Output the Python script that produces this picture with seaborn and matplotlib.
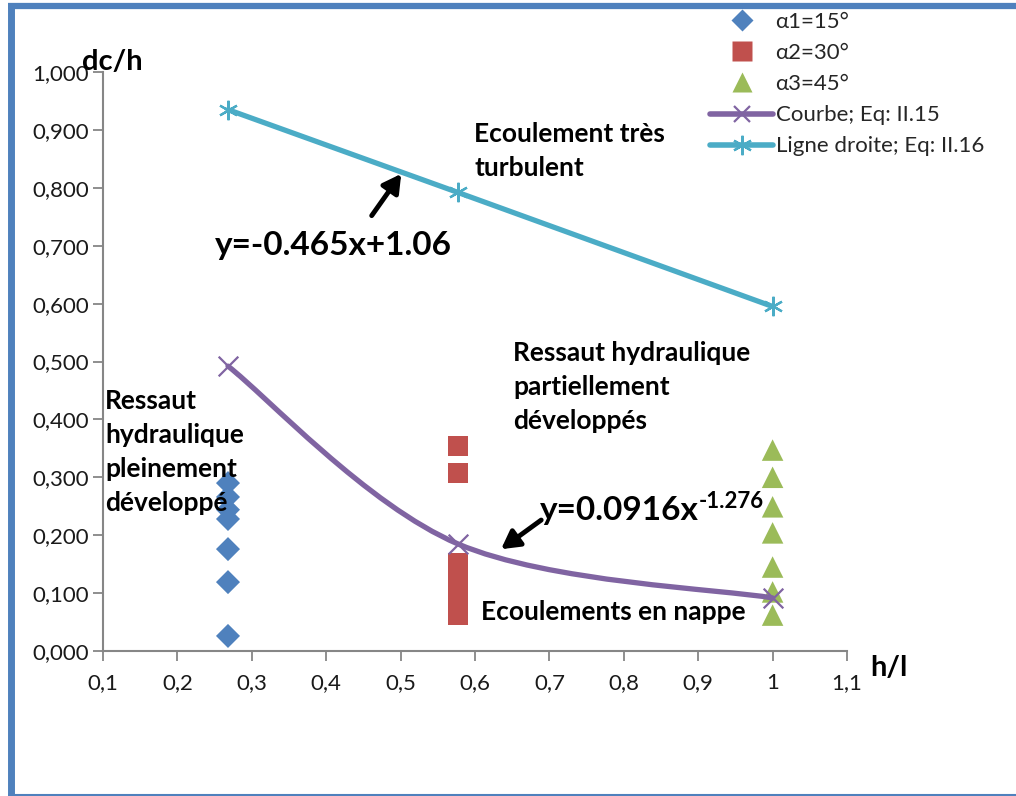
import numpy as np
import pandas as pd
import matplotlib
matplotlib.use("Agg")
import matplotlib.pyplot as plt
import seaborn as sns
from matplotlib.path import Path
from matplotlib.patches import PathPatch
from matplotlib.lines import Line2D

# ---- data ----
x_a1 = [0.268] * 7
y_a1 = [0.290, 0.266, 0.244, 0.228, 0.176, 0.119, 0.026]
x_a2 = [0.577] * 7
y_a2 = [0.354, 0.307, 0.152, 0.125, 0.100, 0.080, 0.062]
x_a3 = [1.0] * 7
y_a3 = [0.347, 0.300, 0.249, 0.204, 0.145, 0.102, 0.062]
x_courbe = [0.268, 0.577, 1.0]
y_courbe = [0.492, 0.185, 0.0916]
x_droite = [0.268, 0.577, 1.0]
y_droite = [0.935, 0.792, 0.595]
x_ticks = [0.1, 0.2, 0.3, 0.4, 0.5, 0.6, 0.7, 0.8, 0.9, 1.0, 1.1]
x_ticklabels = ["0,1", "0,2", "0,3", "0,4", "0,5", "0,6", "0,7", "0,8", "0,9", "1", "1,1"]
y_ticks = [0.0, 0.1, 0.2, 0.3, 0.4, 0.5, 0.6, 0.7, 0.8, 0.9, 1.0]
y_ticklabels = ["0,000", "0,100", "0,200", "0,300", "0,400", "0,500",
                "0,600", "0,700", "0,800", "0,900", "1,000"]
labels = ["α1=15°", "α2=30°", "α3=45°", "Courbe; Eq: II.15", "Ligne droite; Eq: II.16"]

C_BLUE = "#4F81BD"
C_RED = "#C0504D"
C_GREEN = "#9BBB59"
C_PURPLE = "#8064A2"
C_CYAN = "#4BACC6"
GRAY = "#868686"

sns.set_theme(style="white")
plt.rcParams["font.family"] = ["Lato", "DejaVu Sans"]

fig = plt.figure(figsize=(10.16, 7.96), dpi=100)
ax = fig.add_axes([103 / 1016, 1 - 651 / 796, 744 / 1016, 579 / 796])

df1 = pd.DataFrame({"x": x_a1, "y": y_a1})
df2 = pd.DataFrame({"x": x_a2, "y": y_a2})
df3 = pd.DataFrame({"x": x_a3, "y": y_a3})
sns.scatterplot(data=df1, x="x", y="y", marker="D", s=150, color=C_BLUE, edgecolor="none", ax=ax, zorder=3)
sns.scatterplot(data=df2, x="x", y="y", marker="s", s=200, color=C_RED, edgecolor="none", ax=ax, zorder=3)
sns.scatterplot(data=df3, x="x", y="y", marker="^", s=240, color=C_GREEN, edgecolor="none", ax=ax, zorder=3)

# straight line
dfd = pd.DataFrame({"x": x_droite, "y": y_droite})
sns.lineplot(data=dfd, x="x", y="y", color=C_CYAN, lw=3.8, marker=(6, 2, 0), markersize=14,
             markeredgewidth=1.6, markeredgecolor=C_CYAN, ax=ax, zorder=4, sort=False)

# smoothed curve (Catmull-Rom -> Bezier), like Excel's smoothed line
P = np.column_stack([np.array(x_courbe), np.array(y_courbe)])
Pext = np.vstack([P[0], P, P[-1]])
verts = [P[0]]
codes = [Path.MOVETO]
for i in range(len(P) - 1):
    p0, p1, p2, p3 = Pext[i], Pext[i + 1], Pext[i + 2], Pext[i + 3]
    c1 = p1 + (p2 - p0) / 6.0
    c2 = p2 - (p3 - p1) / 6.0
    verts += [c1, c2, p2]
    codes += [Path.CURVE4] * 3
ax.add_patch(PathPatch(Path(verts, codes), fill=False, edgecolor=C_PURPLE, lw=3.8, zorder=4,
                       capstyle="round"))
dfc = pd.DataFrame({"x": x_courbe, "y": y_courbe})
sns.scatterplot(data=dfc, x="x", y="y", marker="x", s=200, color=C_PURPLE, linewidth=1.6, ax=ax, zorder=5)

ax.set_xlim(0.1, 1.1)
ax.set_ylim(0.0, 1.0)
ax.set_xticks(x_ticks)
ax.set_xticklabels(x_ticklabels)
ax.set_yticks(y_ticks)
ax.set_yticklabels(y_ticklabels)
ax.set_xlabel("")
ax.set_ylabel("")
for s in ["top", "right"]:
    ax.spines[s].set_visible(False)
for s in ["left", "bottom"]:
    ax.spines[s].set_color(GRAY)
    ax.spines[s].set_linewidth(1.5)
ax.tick_params(axis="both", which="major", direction="out", length=7, width=1.3,
               color=GRAY, labelsize=16, labelcolor="#1a1a1a", left=True, bottom=True)
ax.tick_params(axis="x", pad=9)
ax.tick_params(axis="y", pad=3)

# annotations
bold = dict(fontweight="bold", color="black")
ax.text(0.599, 0.914, "Ecoulement très\nturbulent", fontsize=19, linespacing=1.5, va="top", **bold)
ax.text(0.2505, 0.701, "y=-0.465x+1.06", fontsize=24, va="center", **bold)
ax.text(0.651, 0.536, "Ressaut hydraulique\npartiellement\ndéveloppés", fontsize=19,
        linespacing=1.5, va="top", **bold)
ax.text(0.1027, 0.453, "Ressaut\nhydraulique\npleinement\ndéveloppé", fontsize=19,
        linespacing=1.5, va="top", **bold)
t_eq = ax.text(0.687, 0.2435, "y=0.0916x", fontsize=24, va="center", **bold)
ax.annotate("-1.276", xy=(1.0, 0.78), xycoords=t_eq, ha="left", va="center",
            fontsize=16, **bold)
ax.text(0.608, 0.067, "Ecoulements en nappe", fontsize=19, va="center", **bold)
ax.text(0.072, 1.017, "dc/h", fontsize=21, va="center", ha="left", clip_on=False, **bold)
ax.text(1.131, -0.03, "h/l", fontsize=21, va="center", ha="left", clip_on=False, **bold)

ax.annotate("", xy=(0.503, 0.828), xytext=(0.459, 0.748),
            arrowprops=dict(arrowstyle="-|>,head_length=0.9,head_width=0.5", color="black", lw=3.5))
ax.annotate("", xy=(0.632, 0.173), xytext=(0.692, 0.229),
            arrowprops=dict(arrowstyle="-|>,head_length=0.9,head_width=0.5", color="black", lw=3.5))

# legend
handles = [
    Line2D([], [], ls="none", marker="D", markersize=11, color=C_BLUE, mec="none"),
    Line2D([], [], ls="none", marker="s", markersize=14, color=C_RED, mec="none"),
    Line2D([], [], ls="none", marker="^", markersize=15, color=C_GREEN, mec="none"),
    Line2D([], [], color=C_PURPLE, lw=4, marker="x", markersize=12, mew=1.6, mec=C_PURPLE),
    Line2D([], [], color=C_CYAN, lw=4, marker=(6, 2, 0), markersize=14, mew=1.6, mec=C_CYAN),
]
fig.legend(handles, labels, loc="upper left", bbox_to_anchor=(710 / 1016, 1 - 12 / 796),
           frameon=False, fontsize=16, handlelength=2.85, handletextpad=0.1,
           labelspacing=0.5, borderaxespad=0, borderpad=0)

# blue frame of the picture
fig.add_artist(Line2D([11 / 1016, 11 / 1016], [0, 1 - 3 / 796], transform=fig.transFigure,
                      color=C_BLUE, lw=5, solid_capstyle="butt"))
fig.add_artist(Line2D([8 / 1016, 1], [1 - 6 / 796, 1 - 6 / 796], transform=fig.transFigure,
                      color=C_BLUE, lw=4.5, solid_capstyle="butt"))
fig.add_artist(Line2D([8 / 1016, 1], [1.5 / 796, 1.5 / 796], transform=fig.transFigure,
                      color=C_BLUE, lw=1.5, solid_capstyle="butt"))

fig.savefig("out.png", dpi=100, facecolor="white")
